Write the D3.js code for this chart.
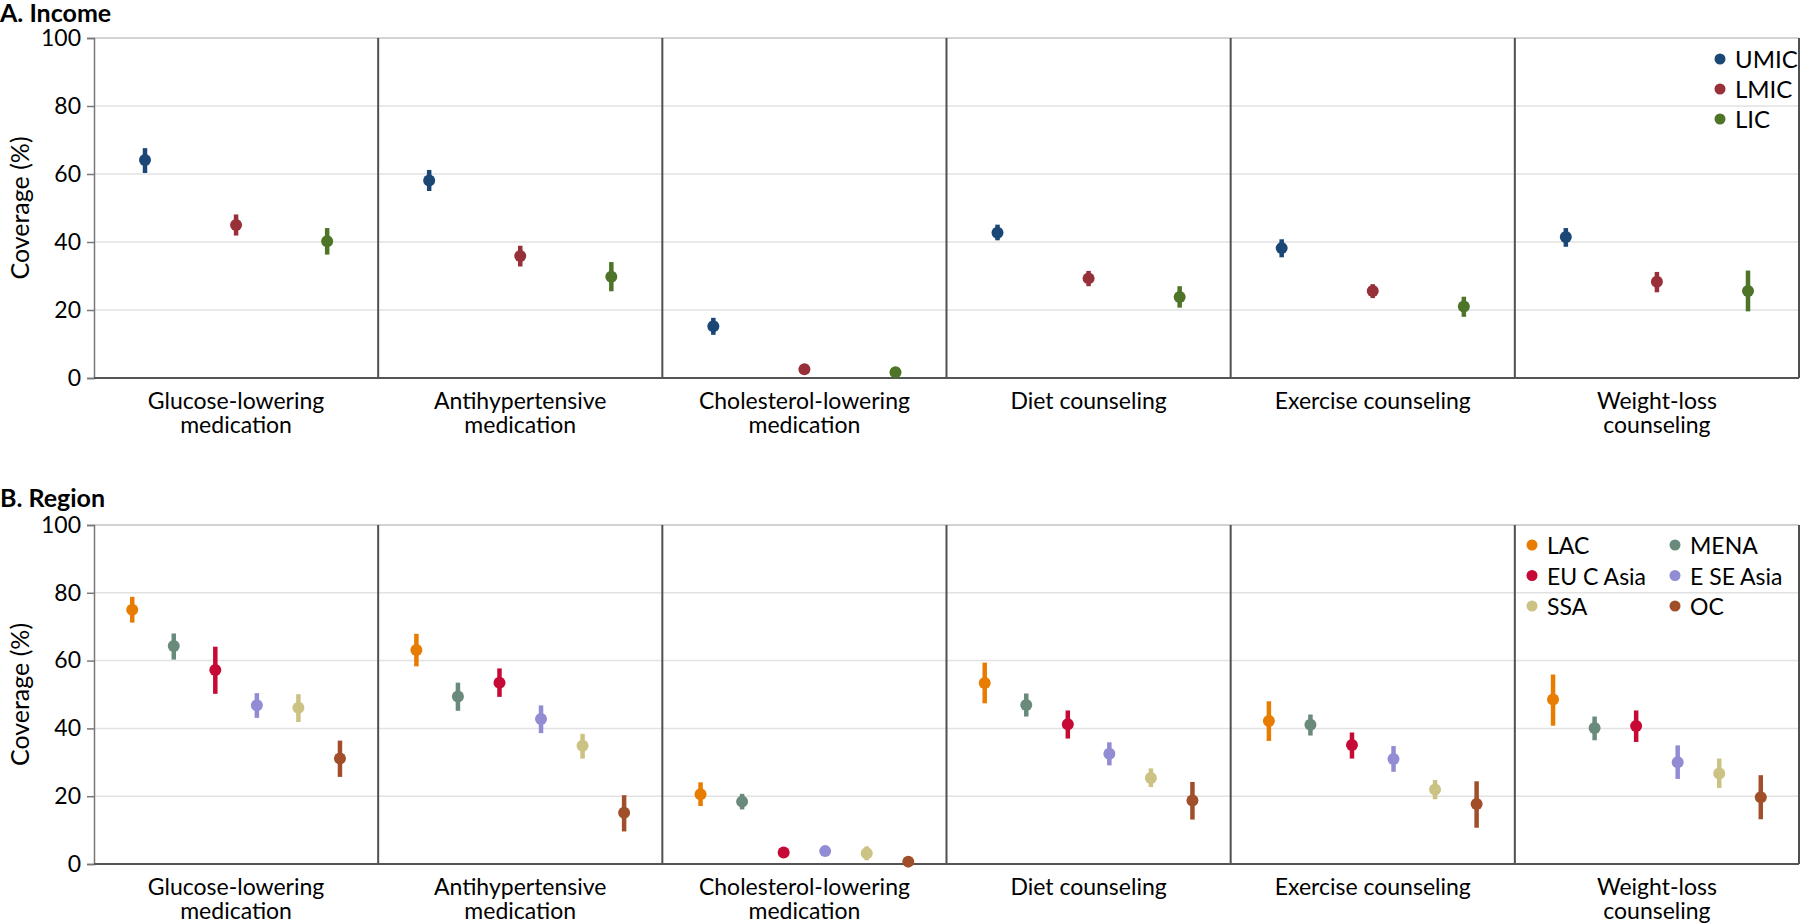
<!DOCTYPE html>
<html>
<head>
<meta charset="utf-8">
<script src="https://cdn.jsdelivr.net/npm/d3@7"></script>
<style>
  html, body { margin: 0; padding: 0; background: #fff; }
  svg { display: block; font-family: Lato, "Noto Sans", sans-serif; }
</style>
</head>
<body>
<svg id="chart" width="1800" height="923"></svg>
<script>
// ---------- DATA ----------
const categories = ["Glucose-lowering medication", "Antihypertensive medication", "Cholesterol-lowering medication", "Diet counseling", "Exercise counseling", "Weight-loss counseling"];
const categoryLines = [["Glucose-lowering", "medication"], ["Antihypertensive", "medication"], ["Cholesterol-lowering", "medication"], ["Diet counseling"], ["Exercise counseling"], ["Weight-loss", "counseling"]];
const yTicks = [0, 20, 40, 60, 80, 100];

const incomeGroups = ["UMIC", "LMIC", "LIC"];
const incomeColors = ["#1a4775", "#983039", "#4e7428"];
// rows = categories, columns = income groups
const incomeMean = [
  [64.1, 45.0, 40.2],
  [58.1, 35.9, 29.8],
  [15.2, 2.6, 1.7],
  [42.7, 29.3, 23.8],
  [38.2, 25.6, 21.0],
  [41.5, 28.3, 25.6]
];
const incomeLow = [
  [60.3, 41.9, 36.3],
  [55.0, 32.8, 25.5],
  [12.7, 2.2, 1.3],
  [40.5, 27.0, 20.7],
  [35.5, 23.5, 18.0],
  [38.6, 25.2, 19.6]
];
const incomeHigh = [
  [67.6, 48.1, 44.1],
  [61.2, 38.9, 34.1],
  [17.7, 3.0, 2.1],
  [45.1, 31.5, 27.0],
  [40.8, 27.6, 23.9],
  [44.1, 31.2, 31.6]
];

const regionGroups = ["LAC", "MENA", "EU C Asia", "E SE Asia", "SSA", "OC"];
const regionColors = ["#e87c00", "#6a8a7c", "#c60a35", "#928cd4", "#cbc283", "#a14f2b"];
const regionMean = [
  [75.0, 64.3, 57.2, 46.8, 46.1, 31.1],
  [63.1, 49.4, 53.5, 42.8, 34.9, 15.1],
  [20.6, 18.4, 3.4, 3.8, 3.2, 0.7],
  [53.4, 46.9, 41.2, 32.5, 25.4, 18.7],
  [42.2, 41.1, 35.1, 31.0, 22.0, 17.7],
  [48.5, 40.1, 40.7, 30.0, 26.7, 19.7]
];
const regionLow = [
  [71.2, 60.3, 50.2, 43.1, 41.9, 25.7],
  [58.3, 45.2, 49.3, 38.6, 31.1, 9.6],
  [17.1, 16.1, 3.0, 3.4, 1.1, 0.4],
  [47.4, 43.5, 37.0, 29.1, 22.7, 13.1],
  [36.3, 37.9, 31.1, 27.2, 19.1, 10.7],
  [40.8, 36.5, 36.0, 25.1, 22.4, 13.2]
];
const regionHigh = [
  [78.8, 68.0, 64.1, 50.4, 50.1, 36.4],
  [67.9, 53.5, 57.7, 46.8, 38.4, 20.3],
  [24.1, 20.7, 3.8, 4.2, 5.2, 1.0],
  [59.4, 50.3, 45.3, 35.9, 28.2, 24.2],
  [48.0, 44.1, 38.8, 34.8, 24.8, 24.4],
  [55.9, 43.5, 45.3, 35.0, 31.1, 26.2]
];

// ---------- DRAW ----------
const svg = d3.select("#chart");
const plotLeft = 94, plotRight = 1799;

const x = d3.scaleBand().domain(categories).range([plotLeft, plotRight]).paddingInner(0).paddingOuter(0);

function drawPanel(opts) {
  const { title, titleY, top, bottom, groups, colors, mean, low, high, innerPadding } = opts;
  const g = svg.append("g");
  const y = d3.scaleLinear().domain([0, 100]).range([bottom, top]);
  const xi = d3.scalePoint().domain(groups).range([0, x.bandwidth()]).padding(innerPadding);

  // title
  svg.append("text").attr("x", 0).attr("y", titleY)
    .attr("font-size", 25).attr("font-weight", 700).attr("fill", "#000").text(title);

  // gridlines
  g.append("g").selectAll("line").data(yTicks.filter(t => t > 0 && t < 100)).join("line")
    .attr("x1", plotLeft).attr("x2", plotRight)
    .attr("y1", d => y(d)).attr("y2", d => y(d))
    .attr("stroke", "#e2e2e2").attr("stroke-width", 1.5);

  // top border
  g.append("line").attr("x1", plotLeft).attr("x2", plotRight).attr("y1", y(100)).attr("y2", y(100))
    .attr("stroke", "#c4c4c4").attr("stroke-width", 1.5);

  // panel dividers + right border
  g.append("g").selectAll("line").data(categories.slice(1)).join("line")
    .attr("x1", d => x(d)).attr("x2", d => x(d))
    .attr("y1", y(100)).attr("y2", y(0))
    .attr("stroke", "#505050").attr("stroke-width", 2);
  g.append("line").attr("x1", plotRight).attr("x2", plotRight).attr("y1", y(100)).attr("y2", y(0))
    .attr("stroke", "#505050").attr("stroke-width", 2);

  // y axis
  const yAxis = d3.axisLeft(y).tickValues(yTicks).tickSize(7).tickPadding(6);
  const ya = g.append("g").attr("transform", `translate(${plotLeft},0)`).call(yAxis);
  ya.select(".domain").attr("stroke", "#777").attr("stroke-width", 1.5);
  ya.selectAll(".tick line").attr("stroke", "#777").attr("stroke-width", 1.5);
  ya.selectAll(".tick text").attr("font-size", 23).attr("fill", "#000").attr("font-family", "Lato, sans-serif");

  // x axis baseline
  g.append("line").attr("x1", plotLeft).attr("x2", plotRight).attr("y1", y(0)).attr("y2", y(0))
    .attr("stroke", "#555").attr("stroke-width", 2);

  // y title
  svg.append("text")
    .attr("transform", `translate(29,${(top + bottom) / 2}) rotate(-90)`)
    .attr("text-anchor", "middle").attr("font-size", 25).attr("fill", "#000")
    .text("Coverage (%)");

  // category labels
  const lab = g.append("g").selectAll("text").data(categories).join("text")
    .attr("x", d => x(d) + x.bandwidth() / 2)
    .attr("y", bottom + 31)
    .attr("text-anchor", "middle").attr("font-size", 23).attr("fill", "#000");
  lab.each(function(d, i) {
    d3.select(this).selectAll("tspan").data(categoryLines[i]).join("tspan")
      .attr("x", x(d) + x.bandwidth() / 2)
      .attr("dy", (t, j) => j === 0 ? 0 : 24)
      .text(t => t);
  });

  // marks
  const pts = [];
  categories.forEach((c, ci) => {
    groups.forEach((gname, gi) => {
      pts.push({ c, gname, gi, m: mean[ci][gi], lo: low[ci][gi], hi: high[ci][gi] });
    });
  });
  const mk = g.append("g").selectAll("g").data(pts).join("g")
    .attr("transform", d => `translate(${x(d.c) + xi(d.gname)},0)`);
  mk.append("line")
    .attr("x1", 0).attr("x2", 0)
    .attr("y1", d => y(d.lo)).attr("y2", d => y(d.hi))
    .attr("stroke", d => colors[d.gi]).attr("stroke-width", 4.5);
  mk.append("circle")
    .attr("cx", 0).attr("cy", d => y(d.m)).attr("r", 6)
    .attr("fill", d => colors[d.gi]);

  return { g, y };
}

// Panel A
drawPanel({
  title: "A. Income", titleY: 22, top: 38, bottom: 378,
  groups: incomeGroups, colors: incomeColors,
  mean: incomeMean, low: incomeLow, high: incomeHigh, innerPadding: 0.56
});

// Panel B
drawPanel({
  title: "B. Region", titleY: 507, top: 525, bottom: 864,
  groups: regionGroups, colors: regionColors,
  mean: regionMean, low: regionLow, high: regionHigh, innerPadding: 0.92
});

// Legend A
const legA = svg.append("g").selectAll("g").data(incomeGroups).join("g")
  .attr("transform", (d, i) => `translate(1720,${59 + i * 30})`);
legA.append("circle").attr("r", 5.5).attr("fill", (d, i) => incomeColors[i]);
legA.append("text").attr("x", 15).attr("y", 9).attr("font-size", 24).attr("fill", "#000").text(d => d);

// Legend B (2 columns, 3 rows)
const legB = svg.append("g").selectAll("g").data(regionGroups).join("g")
  .attr("transform", (d, i) => `translate(${i % 2 === 0 ? 1532 : 1675},${545 + Math.floor(i / 2) * 30.5})`);
legB.append("circle").attr("r", 5.5).attr("fill", (d, i) => regionColors[i]);
legB.append("text").attr("x", 15).attr("y", 9).attr("font-size", 23).attr("fill", "#000").text(d => d);
</script>
</body>
</html>
